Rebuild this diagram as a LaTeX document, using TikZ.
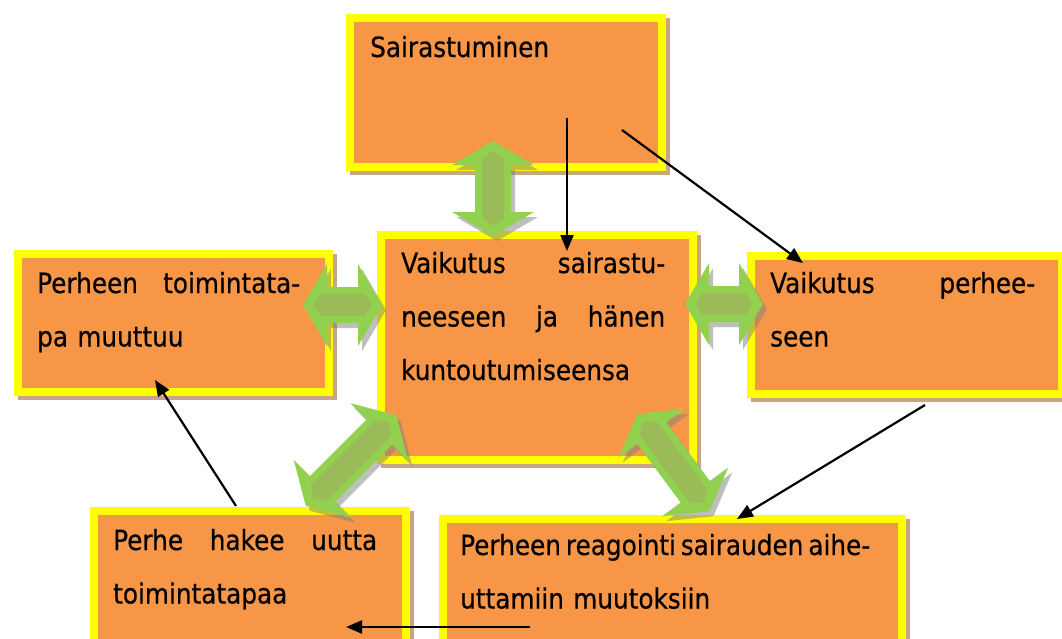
\documentclass[tikz,border=0pt]{standalone}
\usepackage{fontspec}
\setmainfont{DejaVu Sans}[FakeStretch=0.89, FakeBold=0.5]
\usetikzlibrary{arrows.meta}
\definecolor{boxfill}{HTML}{F79646}
\definecolor{boxedge}{HTML}{FFFF00}
\definecolor{boxshadow}{HTML}{C8A587}
\definecolor{arrowlight}{HTML}{92D050}
\definecolor{arrowdark}{HTML}{9BBB59}
\definecolor{arrowshadow}{HTML}{7F7F7F}
\newcommand\txtfont{\fontsize{27.8}{53.5}\selectfont}
\tikzset{
  box/.style={rectangle, inner sep=0pt, anchor=north west, draw=boxedge, fill=boxfill, line width=8pt,
    preaction={draw=boxshadow, fill=boxshadow, line width=8pt, transform canvas={shift={(4pt,-4pt)}}}},
  boxlabel/.style={anchor=base west, inner sep=0pt, font=\txtfont, align=left},
  conn/.style={line width=2.2pt, -{Triangle[length=16pt,width=13pt]}},
}
% decorative block arrow: centre x, centre y, angle, length
\newcommand\blockarrow[4]{%
  \pgfmathsetmacro\bah{#4/2}%
  \pgfmathsetmacro\bab{#4/2-24}%
  \pgfmathsetmacro\bai{#4/2-10}%
  \pgfmathsetmacro\baj{#4/2-18}%
  \begin{scope}[shift={(#1+4,#2+5)}, rotate=#3]
    \fill[arrowshadow, opacity=0.5] (-\bah,0) -- (-\bab,41) -- (-\bab,18) -- (\bab,18) -- (\bab,41) -- (\bah,0)
      -- (\bab,-41) -- (\bab,-18) -- (-\bab,-18) -- (-\bab,-41) -- cycle;
  \end{scope}
  \begin{scope}[shift={(#1,#2)}, rotate=#3]
    \fill[arrowlight] (-\bah,0) -- (-\bab,41) -- (-\bab,18) -- (\bab,18) -- (\bab,41) -- (\bah,0)
      -- (\bab,-41) -- (\bab,-18) -- (-\bab,-18) -- (-\bab,-41) -- cycle;
    \fill[arrowdark] (-\bai,0) -- (-\baj,11) -- (\baj,11) -- (\bai,0) -- (\baj,-11) -- (-\baj,-11) -- cycle;
  \end{scope}}
\begin{document}
\begin{tikzpicture}[x=1pt, y=-1pt]
\useasboundingbox (0,0) rectangle (1062,638);
\fill[white] (0,0) rectangle (1062,638);
\clip (0,0) rectangle (1062,638);

% boxes
\node[box, minimum width=312pt, minimum height=149pt] (top) at (346,14) {};
\node[box, minimum width=311pt, minimum height=138pt] (left) at (14,250) {};
\node[box, minimum width=312pt, minimum height=225pt] (center) at (377,231) {};
\node[box, minimum width=311pt, minimum height=138pt] (right) at (747,252) {};
\node[box, minimum width=312pt, minimum height=170pt] (bl) at (90,507) {};
\node[box, minimum width=459pt, minimum height=170pt] (br) at (439,515) {};

% texts
\node[boxlabel] (ttop) at (370,57) {Sairastuminen};
\node[boxlabel, text width=263pt] (tleft) at (37,293) {Perheen\hfill toimintata-\\pa muuttuu};
\node[boxlabel, text width=264pt] (tcenter) at (401,273) {Vaikutus\hfill sairastu-\\neeseen\hfill ja\hfill hänen\\kuntoutumiseensa};
\node[boxlabel, text width=265pt] (tright) at (770,293) {Vaikutus\hfill perhee-\\seen};
\node[boxlabel, text width=264pt] (tbl) at (113,550) {Perhe\hfill hakee\hfill uutta\\toimintatapaa};
\node[boxlabel, text width=410pt] (tbr) at (460,555) {Perheen\hfill reagointi\hfill sairauden\hfill aihe-\\uttamiin muutoksiin};

% green double block arrows
\blockarrow{493}{188.5}{90}{95}
\blockarrow{342.5}{305}{0}{79}
\blockarrow{724}{304}{0}{78}
\blockarrow{351}{460.5}{45}{128}
\blockarrow{673.5}{462.5}{-53.6}{121}

% black connectors
\coordinate (a1s) at (567,118); \coordinate (a1e) at (567,251);
\coordinate (a2s) at (622,130); \coordinate (a2e) at (803,263);
\coordinate (a3s) at (925,405); \coordinate (a3e) at (737,519);
\coordinate (a4s) at (530,627); \coordinate (a4e) at (346,627);
\coordinate (a5s) at (236,506); \coordinate (a5e) at (155,380);
\draw[conn] (a1s) -- (a1e);
\draw[conn] (a2s) -- (a2e);
\draw[conn] (a3s) -- (a3e);
\draw[conn] (a4s) -- (a4e);
\draw[conn] (a5s) -- (a5e);
\end{tikzpicture}
\end{document}
